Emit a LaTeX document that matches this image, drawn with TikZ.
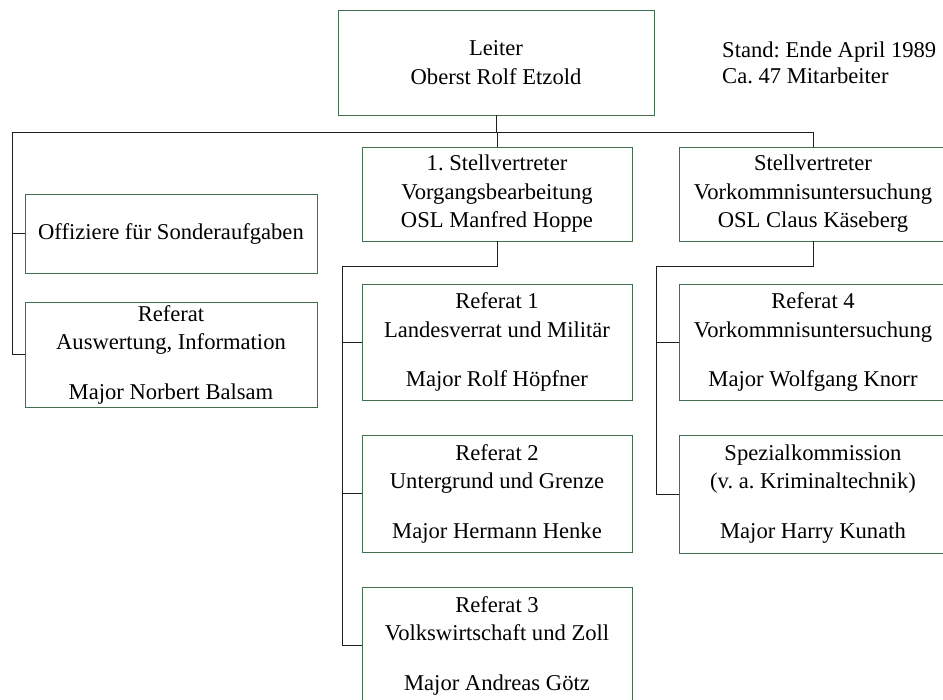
\documentclass[tikz,border=0pt]{standalone}
\usepackage{fontspec}
\setmainfont{Liberation Serif}
\frenchspacing
\definecolor{boxline}{RGB}{66,110,78}
\definecolor{wire}{RGB}{30,30,30}
\tikzset{
  unit/.style={draw=boxline, line width=0.9pt, fill=white, align=center,
    inner sep=0pt, font=\fontsize{22.6}{28.5}\selectfont},
  link/.style={draw=wire, line width=0.9pt},
}
\begin{document}
\begin{tikzpicture}[x=1pt, y=-1pt]
\useasboundingbox (0,0) rectangle (943,700);
\clip (0,0) rectangle (943,700);

% head of the department
\node[unit, minimum width=316pt, minimum height=105pt] (lead) at (496,62.5)
  {Leiter\\Oberst Rolf Etzold};
\node[anchor=west, align=left, inner sep=0pt,
  font=\fontsize{22.6}{26.5}\selectfont] (note) at (722,63)
  {Stand: Ende April 1989\\Ca. 47 Mitarbeiter};

% deputies
\node[unit, minimum width=270pt, minimum height=94pt] (s1) at (497,194)
  {1. Stellvertreter\\Vorgangsbearbeitung\\OSL Manfred Hoppe};
\node[unit, minimum width=268pt, minimum height=94pt] (s2) at (813,194)
  {Stellvertreter\\Vorkommnisuntersuchung\\OSL Claus Käseberg};

% staff units directly under the head
\node[unit, minimum width=292pt, minimum height=79pt] (off) at (171,233.5)
  {Offiziere für Sonderaufgaben};
\node[unit, minimum width=292pt, minimum height=105pt] (refa) at (171,354.5)
  {Referat\\Auswertung, Information\\[21pt]Major Norbert Balsam};

% sections under the first deputy
\node[unit, minimum width=270pt, minimum height=116pt] (r1) at (497,342)
  {Referat 1\\Landesverrat und Militär\\[21pt]Major Rolf Höpfner};
\node[unit, minimum width=270pt, minimum height=117pt] (r2) at (497,493.5)
  {Referat 2\\Untergrund und Grenze\\[21pt]Major Hermann Henke};
\node[unit, minimum width=270pt, minimum height=117pt] (r3) at (497,645.5)
  {Referat 3\\Volkswirtschaft und Zoll\\[21pt]Major Andreas Götz};

% sections under the second deputy
\node[unit, minimum width=268pt, minimum height=116pt] (r4) at (813,342)
  {Referat 4\\Vorkommnisuntersuchung\\[21pt]Major Wolfgang Knorr};
\node[unit, minimum width=268pt, minimum height=118pt] (sk) at (813,494)
  {Spezialkommission\\(v. a. Kriminaltechnik)\\[21pt]Major Harry Kunath};

% connectors
\coordinate (barL) at (12,132);
\coordinate (barR) at (813,132);
\coordinate (midL) at (342,266);
\coordinate (rgtL) at (656,266);

\draw[link] (lead.south) -- (lead.south |- barL);
\draw[link] (barL) -- (barR) -- (s2.north);
\draw[link] (s1.north) -- (s1.north |- barL);
\draw[link] (barL) |- (off.west);
\draw[link] (barL) |- (refa.west);

\draw[link] (s1.south) |- (midL);
\draw[link] (midL) |- (r1.west);
\draw[link] (midL) |- (r2.west);
\draw[link] (midL) |- (r3.west);

\draw[link] (s2.south) |- (rgtL);
\draw[link] (rgtL) |- (r4.west);
\draw[link] (rgtL) |- (sk.west);
\end{tikzpicture}
\end{document}
